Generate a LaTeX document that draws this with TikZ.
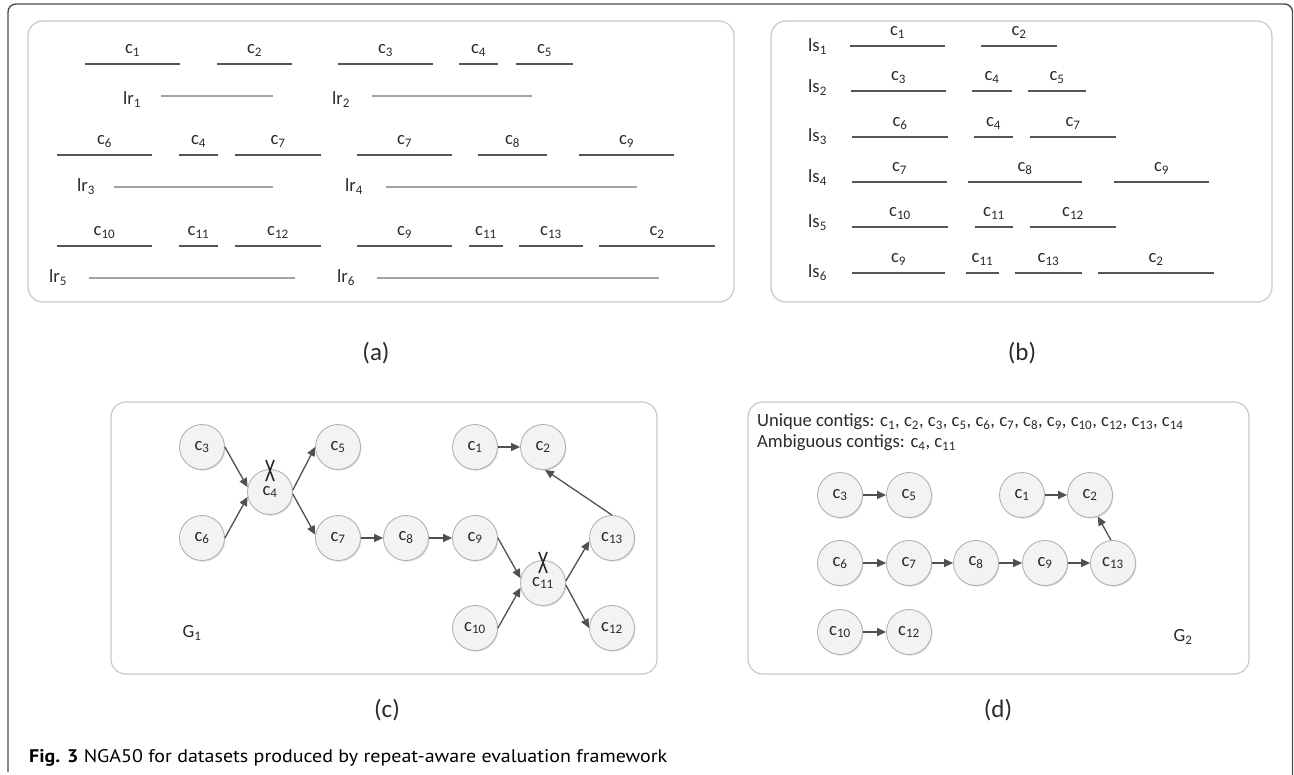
\documentclass[tikz,border=0pt]{standalone}
\usepackage{fontspec}
\setmainfont{Carlito}
\newfontfamily\captfont{PT Sans}
\usetikzlibrary{arrows.meta,shadows}
\definecolor{txt}{HTML}{2A2A2A}
\definecolor{ctgcol}{HTML}{555555}
\definecolor{readcol}{HTML}{A3A3A3}
\definecolor{boxcol}{HTML}{C8C8C8}
\definecolor{framecol}{HTML}{4D4D4D}
\definecolor{nodefill}{HTML}{F3F3F3}
\definecolor{nodeline}{HTML}{ADADAD}
\definecolor{arrcol}{HTML}{505050}
\newcommand\ctgseg[4]{%
  \draw[ctgline] (#1,#3) -- (#2,#3);
  \node[lbl,anchor=base] at ({(#1+#2)/2},#3-10) {c\textsubscript{#4}};}
\newcommand\readseg[6]{%
  \draw[readline] (#1,#3) -- (#2,#3);
  \node[lbl,anchor=base west] at (#4,#5) {#6};}
\begin{document}
\begin{tikzpicture}[x=1pt,y=-1pt,
  lbl/.style={font=\fontsize{18.6}{21}\selectfont, text=txt, inner sep=0pt},
  ctgline/.style={draw=ctgcol, line width=2.7pt},
  readline/.style={draw=readcol, line width=1.1pt},
  panel/.style={draw=boxcol, line width=1.2pt, rounded corners=15pt},
  plabel/.style={font=\fontsize{25}{28}\selectfont, text=txt, inner sep=0pt},
  cnode/.style={circle, draw=nodeline, fill=nodefill, line width=0.8pt,
    minimum size=45pt, inner sep=0pt, font=\fontsize{18.6}{21}\selectfont, text=txt,
    drop shadow={shadow xshift=1pt, shadow yshift=-1.2pt, opacity=0.25, fill=gray}},
  arr/.style={draw=arrcol, line width=1.3pt, -{Triangle[length=9pt,width=8pt]}},
  xmark/.style={draw=txt, line width=1.6pt}
  ]
\useasboundingbox (0,0) rectangle (1294,775);
% outer frame
\draw[framecol, line width=1.4pt, rounded corners=8pt] (8,772) -- (8,4) -- (1292.5,4) -- (1292.5,776);
% panel boxes
\draw[panel] (28,21) rectangle (734,302);
\draw[panel] (771,21) rectangle (1272,302);
\draw[panel] (111,402) rectangle (657,674);
\draw[panel] (748,402) rectangle (1249,674);
% ---------------- panel (a)
\ctgseg{85}{180}{64}{1}
\ctgseg{217}{292}{64}{2}
\ctgseg{338}{433}{64}{3}
\ctgseg{459}{498}{64}{4}
\ctgseg{516}{573}{64}{5}
\readseg{161}{273}{96}{123}{105}{lr\textsubscript{1}}
\readseg{372}{532}{96}{332}{105}{lr\textsubscript{2}}
\ctgseg{57}{152}{155}{6}
\ctgseg{179}{218}{155}{4}
\ctgseg{235}{321}{155}{7}
\ctgseg{357}{452}{155}{7}
\ctgseg{478}{547}{155}{8}
\ctgseg{579}{674}{155}{9}
\readseg{114}{273}{187}{77}{192}{lr\textsubscript{3}}
\readseg{386}{637}{187}{345}{192}{lr\textsubscript{4}}
\ctgseg{57}{152}{246}{10}
\ctgseg{179}{218}{246}{11}
\ctgseg{235}{321}{246}{12}
\ctgseg{357}{452}{246}{9}
\ctgseg{469}{503}{246}{11}
\ctgseg{519}{583}{246}{13}
\ctgseg{599}{715}{246}{2}
\readseg{89}{295}{278}{49}{283}{lr\textsubscript{5}}
\readseg{377}{659}{278}{337}{283}{lr\textsubscript{6}}
\node[plabel] (la) at (376,353) {(a)};
% ---------------- panel (b)
\node[lbl,anchor=base west] (ls1) at (808,52) {ls\textsubscript{1}};
\ctgseg{850}{945}{46}{1}
\ctgseg{981}{1057}{46}{2}
\node[lbl,anchor=base west] (ls2) at (808,93) {ls\textsubscript{2}};
\ctgseg{851}{946}{91}{3}
\ctgseg{972}{1012}{91}{4}
\ctgseg{1028}{1086}{91}{5}
\node[lbl,anchor=base west] (ls3) at (808,142) {ls\textsubscript{3}};
\ctgseg{852}{948}{137}{6}
\ctgseg{974}{1013}{137}{4}
\ctgseg{1030}{1116}{137}{7}
\node[lbl,anchor=base west] (ls4) at (808,183) {ls\textsubscript{4}};
\ctgseg{852}{947}{182}{7}
\ctgseg{968}{1082}{182}{8}
\ctgseg{1114}{1209}{182}{9}
\node[lbl,anchor=base west] (ls5) at (808,228) {ls\textsubscript{5}};
\ctgseg{852}{948}{227}{10}
\ctgseg{975}{1013}{227}{11}
\ctgseg{1030}{1116}{227}{12}
\node[lbl,anchor=base west] (ls6) at (808,278) {ls\textsubscript{6}};
\ctgseg{852}{945}{273}{9}
\ctgseg{966}{999}{273}{11}
\ctgseg{1015}{1082}{273}{13}
\ctgseg{1098}{1214}{273}{2}
\node[plabel] (lb) at (1022,353) {(b)};
% ---------------- panel (c)
\node[cnode] (p3) at (202,447) {c\textsubscript{3}};
\node[cnode] (p6) at (202,538) {c\textsubscript{6}};
\node[cnode] (p4) at (270,492) {c\textsubscript{4}};
\node[cnode] (p5) at (338,447) {c\textsubscript{5}};
\node[cnode] (p7) at (338,538) {c\textsubscript{7}};
\node[cnode] (p8) at (406,538) {c\textsubscript{8}};
\node[cnode] (p1) at (475,447) {c\textsubscript{1}};
\node[cnode] (p2) at (543,447) {c\textsubscript{2}};
\node[cnode] (p9) at (475,538) {c\textsubscript{9}};
\node[cnode] (p11) at (543,583) {c\textsubscript{11}};
\node[cnode] (p13) at (612,538) {c\textsubscript{13}};
\node[cnode] (p10) at (475,628) {c\textsubscript{10}};
\node[cnode] (p12) at (612,628) {c\textsubscript{12}};
\draw[arr] (p3.east) -- (p4.168);
\draw[arr] (p6.east) -- (p4.192);
\draw[arr] (p4.5) -- (p5.west);
\draw[arr] (p4.-5) -- (p7.172);
\draw[arr] (p7.east) -- (p8.west);
\draw[arr] (p8.east) -- (p9.west);
\draw[arr] (p9.east) -- (p11.168);
\draw[arr] (p10.east) -- (p11.192);
\draw[arr] (p11.5) -- (p13.188);
\draw[arr] (p11.-5) -- (p12.west);
\draw[arr] (p1.east) -- (p2.west);
\draw[arr] (p13.north) -- (p2.-85);
\draw[xmark] (266,460) -- (274,481);
\draw[xmark] (274,460) -- (266,481);
\draw[xmark] (539,552) -- (547,573);
\draw[xmark] (547,552) -- (539,573);
\node[lbl] (g1) at (192,633) {G\textsubscript{1}};
\node[plabel] (lc) at (387,710) {(c)};
% ---------------- panel (d)
\node[lbl,anchor=base west] (uniq) at (757,427) {Unique contigs: c\textsubscript{1}, c\textsubscript{2}, c\textsubscript{3}, c\textsubscript{5}, c\textsubscript{6}, c\textsubscript{7}, c\textsubscript{8}, c\textsubscript{9}, c\textsubscript{10}, c\textsubscript{12}, c\textsubscript{13}, c\textsubscript{14}};
\node[lbl,anchor=base west] (ambi) at (757,448) {Ambiguous contigs: c\textsubscript{4}, c\textsubscript{11}};
\node[cnode] (q3) at (840,495) {c\textsubscript{3}};
\node[cnode] (q5) at (909,495) {c\textsubscript{5}};
\node[cnode] (q1) at (1022,495) {c\textsubscript{1}};
\node[cnode] (q2) at (1090,495) {c\textsubscript{2}};
\node[cnode] (q6) at (840,563) {c\textsubscript{6}};
\node[cnode] (q7) at (909,563) {c\textsubscript{7}};
\node[cnode] (q8) at (976,563) {c\textsubscript{8}};
\node[cnode] (q9) at (1045,563) {c\textsubscript{9}};
\node[cnode] (q13) at (1113,563) {c\textsubscript{13}};
\node[cnode] (q10) at (840,632) {c\textsubscript{10}};
\node[cnode] (q12) at (909,632) {c\textsubscript{12}};
\draw[arr] (q3) -- (q5);
\draw[arr] (q1) -- (q2);
\draw[arr] (q6) -- (q7);
\draw[arr] (q7) -- (q8);
\draw[arr] (q8) -- (q9);
\draw[arr] (q9) -- (q13);
\draw[arr] (q10) -- (q12);
\draw[arr] (q13.95) -- (q2.-70);
\node[lbl] (g2) at (1183,637) {G\textsubscript{2}};
\node[plabel] (ld) at (998,710) {(d)};
% ---------------- caption
\node[anchor=base west, inner sep=0pt, text=black] (cap) at (29,762)
  {\resizebox{638pt}{13pt}{\captfont\textbf{Fig. 3} NGA50 for datasets produced by repeat-aware evaluation framework}};
\end{tikzpicture}
\end{document}
